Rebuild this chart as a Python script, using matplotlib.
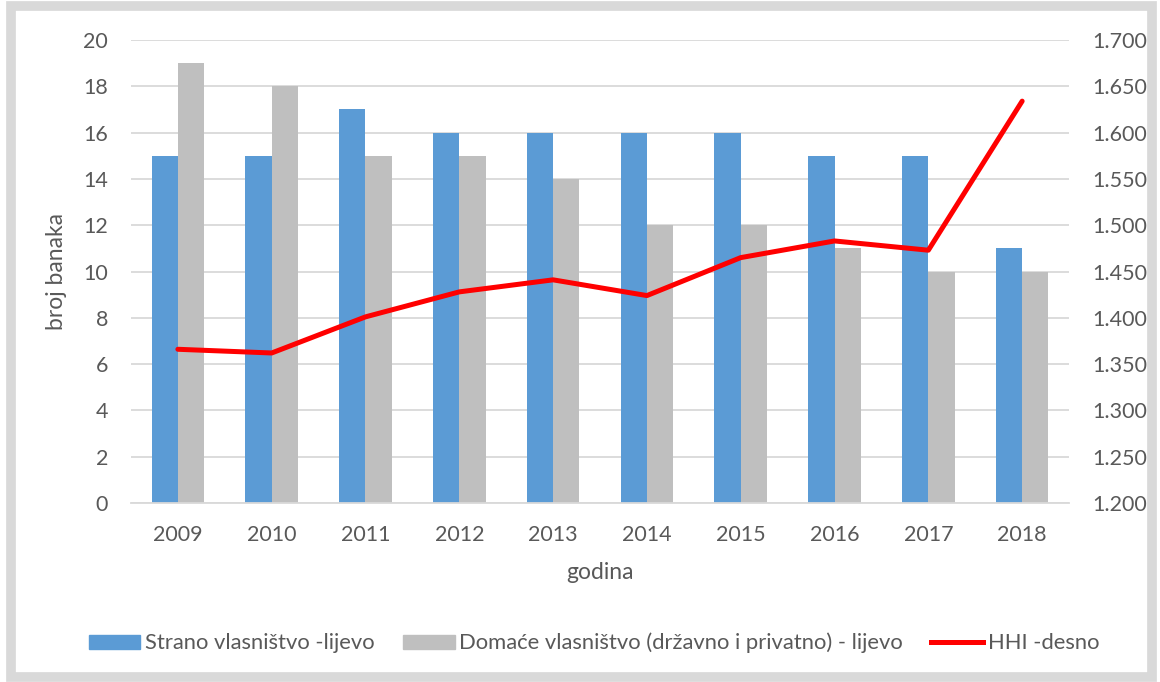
import matplotlib
matplotlib.use("Agg")
import matplotlib.pyplot as plt
import numpy as np
from matplotlib.patches import Rectangle, Patch
from matplotlib.lines import Line2D

# data
years = ['2009', '2010', '2011', '2012', '2013', '2014', '2015', '2016', '2017', '2018']
strano = [15, 15, 17, 16, 16, 16, 16, 15, 15, 11]
domace = [19, 18, 15, 15, 14, 12, 12, 11, 10, 10]
hhi = [1.366, 1.362, 1.401, 1.428, 1.441, 1.424, 1.465, 1.483, 1.473, 1.634]

plt.rcParams['font.family'] = ['Lato', 'DejaVu Sans']
txt = '#595959'
grid = '#d9d9d9'

fig = plt.figure(figsize=(11.6, 6.82), dpi=100)
# outer grey frame
fig.patches.append(Rectangle((11/1160, 5/682), 1141/1160, 671/682, transform=fig.transFigure,
                             fill=False, edgecolor='#d9d9d9', linewidth=7, zorder=0))

ax = fig.add_axes([0.1129, 0.2625, 0.8087, 0.6788])
x = np.arange(len(years))
w = 0.28
ax.bar(x - w/2, strano, w, color='#5b9bd5', zorder=2)
ax.bar(x + w/2, domace, w, color='#bfbfbf', zorder=2)
ax.set_xlim(-0.5, len(years) - 0.5)
ax.set_ylim(0, 20)
ax.set_yticks(range(0, 21, 2))
ax.set_xticks(x)
ax.set_xticklabels(years)
ax.yaxis.grid(True, color=grid, linewidth=1.3, zorder=0)
for s in ['top', 'right', 'left']:
    ax.spines[s].set_visible(False)
ax.spines['bottom'].set_color(grid)
ax.spines['bottom'].set_linewidth(1.3)
ax.tick_params(length=0, labelsize=15.5, colors=txt)
ax.tick_params(axis='x', pad=16)
ax.tick_params(axis='y', pad=16.5)
ax.set_ylabel('broj banaka', fontsize=16.5, color=txt, labelpad=12)
ax.set_xlabel('godina', fontsize=16.5, color=txt, labelpad=12)

ax2 = ax.twinx()
ax2.plot(x, hhi, color='#ff0000', linewidth=3.6, zorder=3, solid_capstyle='round')
ax2.set_ylim(1.2, 1.7)
ax2.set_yticks(np.arange(1.2, 1.7001, 0.05))
ax2.set_yticklabels([f"{v:.3f}" for v in np.arange(1.2, 1.7001, 0.05)])
for s in ax2.spines.values():
    s.set_visible(False)
ax2.tick_params(length=0, labelsize=15.5, colors=txt, pad=17)

handles = [Patch(color='#5b9bd5'), Patch(color='#bfbfbf'),
           Line2D([0], [0], color='#ff0000', linewidth=3.6)]
labels = ['Strano vlasništvo -lijevo', 'Domaće vlasništvo (državno i privatno) - lijevo', 'HHI -desno']
fig.legend(handles, labels, loc='center', bbox_to_anchor=(0.512, 1 - 643/682), ncol=3,
           frameon=False, fontsize=15.8, labelcolor=txt, handlelength=2.36,
           handletextpad=0.2, columnspacing=1.3, handleheight=0.6)

fig.savefig('out.png', dpi=100)
